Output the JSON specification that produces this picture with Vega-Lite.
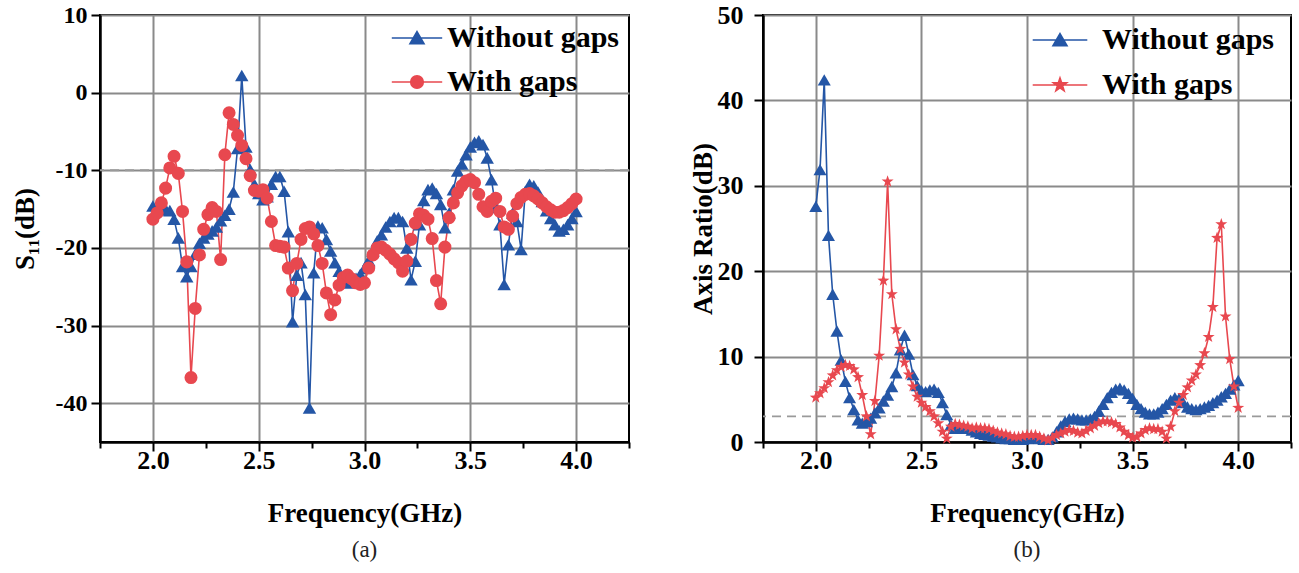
{
  "$schema": "https://vega.github.io/schema/vega-lite/v6.json",
  "padding": {"left": 10, "top": 1, "right": 5, "bottom": 5},
  "background": "white",
  "spacing": 57,
  "config": {
    "font": "Liberation Serif",
    "view": {"stroke": "black", "strokeWidth": 2},
    "axis": {
      "labelFont": "Liberation Serif", "labelFontWeight": "bold", "labelFontSize": 26, "labelColor": "black", "labelOverlap": false,
      "titleFont": "Liberation Serif", "titleFontWeight": "bold", "titleFontSize": 27, "titleColor": "black",
      "domainColor": "black", "domainWidth": 2.5, "tickColor": "black", "tickWidth": 2, "tickSize": 8,
      "grid": true, "gridColor": "#8a8a8a", "gridWidth": 2, "gridOpacity": 1
    }
  },
  "datasets": {
    "s11": [
      {"f":2.00,"v":-14.6,"s":"Without gaps"},{"f":2.02,"v":-14.9,"s":"Without gaps"},{"f":2.04,"v":-15.1,"s":"Without gaps"},{"f":2.06,"v":-15.0,"s":"Without gaps"},{"f":2.08,"v":-15.2,"s":"Without gaps"},
      {"f":2.10,"v":-16.3,"s":"Without gaps"},{"f":2.12,"v":-18.7,"s":"Without gaps"},{"f":2.14,"v":-22.4,"s":"Without gaps"},{"f":2.16,"v":-23.7,"s":"Without gaps"},{"f":2.18,"v":-22.4,"s":"Without gaps"},
      {"f":2.20,"v":-20.8,"s":"Without gaps"},{"f":2.22,"v":-19.4,"s":"Without gaps"},{"f":2.24,"v":-18.7,"s":"Without gaps"},{"f":2.26,"v":-18.2,"s":"Without gaps"},{"f":2.28,"v":-17.8,"s":"Without gaps"},
      {"f":2.30,"v":-17.3,"s":"Without gaps"},{"f":2.32,"v":-16.5,"s":"Without gaps"},{"f":2.34,"v":-15.8,"s":"Without gaps"},{"f":2.36,"v":-15.0,"s":"Without gaps"},{"f":2.38,"v":-12.8,"s":"Without gaps"},
      {"f":2.40,"v":-7.2,"s":"Without gaps"},{"f":2.42,"v":2.2,"s":"Without gaps"},{"f":2.44,"v":-7.0,"s":"Without gaps"},{"f":2.46,"v":-9.9,"s":"Without gaps"},{"f":2.48,"v":-11.8,"s":"Without gaps"},
      {"f":2.50,"v":-13.0,"s":"Without gaps"},{"f":2.52,"v":-13.8,"s":"Without gaps"},{"f":2.54,"v":-13.4,"s":"Without gaps"},{"f":2.56,"v":-11.8,"s":"Without gaps"},{"f":2.58,"v":-10.8,"s":"Without gaps"},
      {"f":2.60,"v":-10.8,"s":"Without gaps"},{"f":2.62,"v":-12.7,"s":"Without gaps"},{"f":2.64,"v":-17.9,"s":"Without gaps"},{"f":2.66,"v":-29.5,"s":"Without gaps"},{"f":2.68,"v":-23.5,"s":"Without gaps"},
      {"f":2.70,"v":-21.9,"s":"Without gaps"},{"f":2.72,"v":-26.0,"s":"Without gaps"},{"f":2.74,"v":-40.6,"s":"Without gaps"},{"f":2.76,"v":-23.2,"s":"Without gaps"},{"f":2.78,"v":-17.2,"s":"Without gaps"},
      {"f":2.80,"v":-17.4,"s":"Without gaps"},{"f":2.82,"v":-18.9,"s":"Without gaps"},{"f":2.84,"v":-20.4,"s":"Without gaps"},{"f":2.86,"v":-21.9,"s":"Without gaps"},{"f":2.88,"v":-23.0,"s":"Without gaps"},
      {"f":2.90,"v":-24.0,"s":"Without gaps"},{"f":2.92,"v":-24.5,"s":"Without gaps"},{"f":2.94,"v":-24.3,"s":"Without gaps"},{"f":2.96,"v":-23.9,"s":"Without gaps"},{"f":2.98,"v":-23.4,"s":"Without gaps"},
      {"f":3.00,"v":-22.6,"s":"Without gaps"},{"f":3.02,"v":-21.6,"s":"Without gaps"},{"f":3.04,"v":-20.4,"s":"Without gaps"},{"f":3.06,"v":-19.1,"s":"Without gaps"},{"f":3.08,"v":-18.3,"s":"Without gaps"},
      {"f":3.10,"v":-17.3,"s":"Without gaps"},{"f":3.12,"v":-16.6,"s":"Without gaps"},{"f":3.14,"v":-16.1,"s":"Without gaps"},{"f":3.16,"v":-16.1,"s":"Without gaps"},{"f":3.18,"v":-16.6,"s":"Without gaps"},
      {"f":3.20,"v":-20.0,"s":"Without gaps"},{"f":3.22,"v":-24.1,"s":"Without gaps"},{"f":3.24,"v":-21.7,"s":"Without gaps"},{"f":3.26,"v":-17.0,"s":"Without gaps"},{"f":3.28,"v":-13.9,"s":"Without gaps"},
      {"f":3.30,"v":-12.5,"s":"Without gaps"},{"f":3.32,"v":-12.3,"s":"Without gaps"},{"f":3.34,"v":-13.0,"s":"Without gaps"},{"f":3.36,"v":-14.4,"s":"Without gaps"},{"f":3.38,"v":-17.4,"s":"Without gaps"},
      {"f":3.40,"v":-15.5,"s":"Without gaps"},{"f":3.42,"v":-12.5,"s":"Without gaps"},{"f":3.44,"v":-10.1,"s":"Without gaps"},{"f":3.46,"v":-9.2,"s":"Without gaps"},{"f":3.48,"v":-8.0,"s":"Without gaps"},
      {"f":3.50,"v":-7.0,"s":"Without gaps"},{"f":3.52,"v":-6.4,"s":"Without gaps"},{"f":3.54,"v":-6.2,"s":"Without gaps"},{"f":3.56,"v":-6.7,"s":"Without gaps"},{"f":3.58,"v":-8.4,"s":"Without gaps"},
      {"f":3.60,"v":-11.2,"s":"Without gaps"},{"f":3.62,"v":-14.8,"s":"Without gaps"},{"f":3.64,"v":-17.0,"s":"Without gaps"},{"f":3.66,"v":-24.7,"s":"Without gaps"},{"f":3.68,"v":-19.6,"s":"Without gaps"},
      {"f":3.70,"v":-15.5,"s":"Without gaps"},{"f":3.72,"v":-16.6,"s":"Without gaps"},{"f":3.74,"v":-20.2,"s":"Without gaps"},{"f":3.76,"v":-12.7,"s":"Without gaps"},{"f":3.78,"v":-11.8,"s":"Without gaps"},
      {"f":3.80,"v":-12.0,"s":"Without gaps"},{"f":3.82,"v":-12.8,"s":"Without gaps"},{"f":3.84,"v":-14.0,"s":"Without gaps"},{"f":3.86,"v":-15.2,"s":"Without gaps"},{"f":3.88,"v":-16.2,"s":"Without gaps"},
      {"f":3.90,"v":-17.0,"s":"Without gaps"},{"f":3.92,"v":-17.8,"s":"Without gaps"},{"f":3.94,"v":-17.6,"s":"Without gaps"},{"f":3.96,"v":-17.0,"s":"Without gaps"},{"f":3.98,"v":-16.2,"s":"Without gaps"},
      {"f":4.00,"v":-15.3,"s":"Without gaps"},
      {"f":2.00,"v":-16.3,"s":"With gaps"},{"f":2.02,"v":-15.5,"s":"With gaps"},{"f":2.04,"v":-14.2,"s":"With gaps"},{"f":2.06,"v":-12.3,"s":"With gaps"},{"f":2.08,"v":-9.7,"s":"With gaps"},
      {"f":2.10,"v":-8.2,"s":"With gaps"},{"f":2.12,"v":-10.4,"s":"With gaps"},{"f":2.14,"v":-15.3,"s":"With gaps"},{"f":2.16,"v":-21.8,"s":"With gaps"},{"f":2.18,"v":-36.7,"s":"With gaps"},
      {"f":2.20,"v":-27.8,"s":"With gaps"},{"f":2.22,"v":-20.9,"s":"With gaps"},{"f":2.24,"v":-17.6,"s":"With gaps"},{"f":2.26,"v":-15.7,"s":"With gaps"},{"f":2.28,"v":-14.8,"s":"With gaps"},
      {"f":2.30,"v":-15.3,"s":"With gaps"},{"f":2.32,"v":-21.5,"s":"With gaps"},{"f":2.34,"v":-8.0,"s":"With gaps"},{"f":2.36,"v":-2.6,"s":"With gaps"},{"f":2.38,"v":-4.1,"s":"With gaps"},
      {"f":2.40,"v":-5.5,"s":"With gaps"},{"f":2.42,"v":-6.8,"s":"With gaps"},{"f":2.44,"v":-8.5,"s":"With gaps"},{"f":2.46,"v":-10.7,"s":"With gaps"},{"f":2.48,"v":-12.6,"s":"With gaps"},
      {"f":2.50,"v":-12.7,"s":"With gaps"},{"f":2.52,"v":-12.5,"s":"With gaps"},{"f":2.54,"v":-13.6,"s":"With gaps"},{"f":2.56,"v":-16.6,"s":"With gaps"},{"f":2.58,"v":-19.7,"s":"With gaps"},
      {"f":2.60,"v":-19.8,"s":"With gaps"},{"f":2.62,"v":-19.9,"s":"With gaps"},{"f":2.64,"v":-22.6,"s":"With gaps"},{"f":2.66,"v":-25.5,"s":"With gaps"},{"f":2.68,"v":-22.0,"s":"With gaps"},
      {"f":2.70,"v":-18.9,"s":"With gaps"},{"f":2.72,"v":-17.5,"s":"With gaps"},{"f":2.74,"v":-17.3,"s":"With gaps"},{"f":2.76,"v":-18.2,"s":"With gaps"},{"f":2.78,"v":-19.7,"s":"With gaps"},
      {"f":2.80,"v":-22.0,"s":"With gaps"},{"f":2.82,"v":-25.8,"s":"With gaps"},{"f":2.84,"v":-28.6,"s":"With gaps"},{"f":2.86,"v":-26.7,"s":"With gaps"},{"f":2.88,"v":-24.8,"s":"With gaps"},
      {"f":2.90,"v":-23.8,"s":"With gaps"},{"f":2.92,"v":-23.5,"s":"With gaps"},{"f":2.94,"v":-24.0,"s":"With gaps"},{"f":2.96,"v":-24.5,"s":"With gaps"},{"f":2.98,"v":-24.7,"s":"With gaps"},
      {"f":3.00,"v":-24.5,"s":"With gaps"},{"f":3.02,"v":-22.6,"s":"With gaps"},{"f":3.04,"v":-20.9,"s":"With gaps"},{"f":3.06,"v":-20.0,"s":"With gaps"},{"f":3.08,"v":-19.9,"s":"With gaps"},
      {"f":3.10,"v":-20.3,"s":"With gaps"},{"f":3.12,"v":-20.8,"s":"With gaps"},{"f":3.14,"v":-21.4,"s":"With gaps"},{"f":3.16,"v":-21.9,"s":"With gaps"},{"f":3.18,"v":-23.0,"s":"With gaps"},
      {"f":3.20,"v":-21.7,"s":"With gaps"},{"f":3.22,"v":-18.9,"s":"With gaps"},{"f":3.24,"v":-16.8,"s":"With gaps"},{"f":3.26,"v":-15.6,"s":"With gaps"},{"f":3.28,"v":-15.8,"s":"With gaps"},
      {"f":3.30,"v":-16.3,"s":"With gaps"},{"f":3.32,"v":-18.8,"s":"With gaps"},{"f":3.34,"v":-24.2,"s":"With gaps"},{"f":3.36,"v":-27.2,"s":"With gaps"},{"f":3.38,"v":-19.9,"s":"With gaps"},
      {"f":3.40,"v":-16.1,"s":"With gaps"},{"f":3.42,"v":-14.2,"s":"With gaps"},{"f":3.44,"v":-12.9,"s":"With gaps"},{"f":3.46,"v":-12.0,"s":"With gaps"},{"f":3.48,"v":-11.4,"s":"With gaps"},
      {"f":3.50,"v":-11.2,"s":"With gaps"},{"f":3.52,"v":-11.6,"s":"With gaps"},{"f":3.54,"v":-13.1,"s":"With gaps"},{"f":3.56,"v":-14.7,"s":"With gaps"},{"f":3.58,"v":-15.3,"s":"With gaps"},
      {"f":3.60,"v":-14.0,"s":"With gaps"},{"f":3.62,"v":-13.6,"s":"With gaps"},{"f":3.64,"v":-15.3,"s":"With gaps"},{"f":3.66,"v":-17.3,"s":"With gaps"},{"f":3.68,"v":-17.6,"s":"With gaps"},
      {"f":3.70,"v":-15.9,"s":"With gaps"},{"f":3.72,"v":-14.3,"s":"With gaps"},{"f":3.74,"v":-13.5,"s":"With gaps"},{"f":3.76,"v":-13.1,"s":"With gaps"},{"f":3.78,"v":-13.0,"s":"With gaps"},
      {"f":3.80,"v":-13.3,"s":"With gaps"},{"f":3.82,"v":-13.7,"s":"With gaps"},{"f":3.84,"v":-14.2,"s":"With gaps"},{"f":3.86,"v":-14.7,"s":"With gaps"},{"f":3.88,"v":-15.1,"s":"With gaps"},
      {"f":3.90,"v":-15.4,"s":"With gaps"},{"f":3.92,"v":-15.4,"s":"With gaps"},{"f":3.94,"v":-15.2,"s":"With gaps"},{"f":3.96,"v":-14.8,"s":"With gaps"},{"f":3.98,"v":-14.3,"s":"With gaps"},
      {"f":4.00,"v":-13.7,"s":"With gaps"}
    ],
    "ar": [
      {"f":2.00,"v":27.6,"s":"Without gaps"},{"f":2.02,"v":31.9,"s":"Without gaps"},{"f":2.04,"v":42.4,"s":"Without gaps"},{"f":2.06,"v":24.2,"s":"Without gaps"},{"f":2.08,"v":17.3,"s":"Without gaps"},
      {"f":2.10,"v":13.0,"s":"Without gaps"},{"f":2.12,"v":9.6,"s":"Without gaps"},{"f":2.14,"v":7.1,"s":"Without gaps"},{"f":2.16,"v":5.2,"s":"Without gaps"},{"f":2.18,"v":3.8,"s":"Without gaps"},
      {"f":2.20,"v":2.6,"s":"Without gaps"},{"f":2.22,"v":2.2,"s":"Without gaps"},{"f":2.24,"v":2.4,"s":"Without gaps"},{"f":2.26,"v":2.8,"s":"Without gaps"},{"f":2.28,"v":3.4,"s":"Without gaps"},
      {"f":2.30,"v":4.0,"s":"Without gaps"},{"f":2.32,"v":4.8,"s":"Without gaps"},{"f":2.34,"v":5.5,"s":"Without gaps"},{"f":2.36,"v":6.5,"s":"Without gaps"},{"f":2.38,"v":8.1,"s":"Without gaps"},
      {"f":2.40,"v":10.8,"s":"Without gaps"},{"f":2.42,"v":12.5,"s":"Without gaps"},{"f":2.44,"v":10.3,"s":"Without gaps"},{"f":2.46,"v":7.9,"s":"Without gaps"},{"f":2.48,"v":6.6,"s":"Without gaps"},
      {"f":2.50,"v":6.0,"s":"Without gaps"},{"f":2.52,"v":5.9,"s":"Without gaps"},{"f":2.54,"v":6.1,"s":"Without gaps"},{"f":2.56,"v":6.2,"s":"Without gaps"},{"f":2.58,"v":5.8,"s":"Without gaps"},
      {"f":2.60,"v":4.6,"s":"Without gaps"},{"f":2.62,"v":3.2,"s":"Without gaps"},{"f":2.64,"v":2.0,"s":"Without gaps"},{"f":2.66,"v":1.6,"s":"Without gaps"},{"f":2.68,"v":1.6,"s":"Without gaps"},
      {"f":2.70,"v":1.7,"s":"Without gaps"},{"f":2.72,"v":1.6,"s":"Without gaps"},{"f":2.74,"v":1.4,"s":"Without gaps"},{"f":2.76,"v":1.2,"s":"Without gaps"},{"f":2.78,"v":1.0,"s":"Without gaps"},
      {"f":2.80,"v":0.9,"s":"Without gaps"},{"f":2.82,"v":0.8,"s":"Without gaps"},{"f":2.84,"v":0.7,"s":"Without gaps"},{"f":2.86,"v":0.6,"s":"Without gaps"},{"f":2.88,"v":0.5,"s":"Without gaps"},
      {"f":2.90,"v":0.4,"s":"Without gaps"},{"f":2.92,"v":0.4,"s":"Without gaps"},{"f":2.94,"v":0.3,"s":"Without gaps"},{"f":2.96,"v":0.3,"s":"Without gaps"},{"f":2.98,"v":0.3,"s":"Without gaps"},
      {"f":3.00,"v":0.4,"s":"Without gaps"},{"f":3.02,"v":0.5,"s":"Without gaps"},{"f":3.04,"v":0.5,"s":"Without gaps"},{"f":3.06,"v":0.4,"s":"Without gaps"},{"f":3.08,"v":0.3,"s":"Without gaps"},
      {"f":3.10,"v":0.3,"s":"Without gaps"},{"f":3.12,"v":0.6,"s":"Without gaps"},{"f":3.14,"v":1.2,"s":"Without gaps"},{"f":3.16,"v":1.9,"s":"Without gaps"},{"f":3.18,"v":2.4,"s":"Without gaps"},
      {"f":3.20,"v":2.7,"s":"Without gaps"},{"f":3.22,"v":2.8,"s":"Without gaps"},{"f":3.24,"v":2.7,"s":"Without gaps"},{"f":3.26,"v":2.6,"s":"Without gaps"},{"f":3.28,"v":2.6,"s":"Without gaps"},
      {"f":3.30,"v":2.7,"s":"Without gaps"},{"f":3.32,"v":3.0,"s":"Without gaps"},{"f":3.34,"v":3.6,"s":"Without gaps"},{"f":3.36,"v":4.4,"s":"Without gaps"},{"f":3.38,"v":5.2,"s":"Without gaps"},
      {"f":3.40,"v":5.8,"s":"Without gaps"},{"f":3.42,"v":6.2,"s":"Without gaps"},{"f":3.44,"v":6.3,"s":"Without gaps"},{"f":3.46,"v":6.1,"s":"Without gaps"},{"f":3.48,"v":5.7,"s":"Without gaps"},
      {"f":3.50,"v":5.1,"s":"Without gaps"},{"f":3.52,"v":4.4,"s":"Without gaps"},{"f":3.54,"v":3.9,"s":"Without gaps"},{"f":3.56,"v":3.5,"s":"Without gaps"},{"f":3.58,"v":3.3,"s":"Without gaps"},
      {"f":3.60,"v":3.3,"s":"Without gaps"},{"f":3.62,"v":3.5,"s":"Without gaps"},{"f":3.64,"v":3.9,"s":"Without gaps"},{"f":3.66,"v":4.4,"s":"Without gaps"},{"f":3.68,"v":4.9,"s":"Without gaps"},
      {"f":3.70,"v":5.2,"s":"Without gaps"},{"f":3.72,"v":5.1,"s":"Without gaps"},{"f":3.74,"v":4.6,"s":"Without gaps"},{"f":3.76,"v":4.1,"s":"Without gaps"},{"f":3.78,"v":3.9,"s":"Without gaps"},
      {"f":3.80,"v":3.8,"s":"Without gaps"},{"f":3.82,"v":3.9,"s":"Without gaps"},{"f":3.84,"v":4.1,"s":"Without gaps"},{"f":3.86,"v":4.3,"s":"Without gaps"},{"f":3.88,"v":4.6,"s":"Without gaps"},
      {"f":3.90,"v":4.9,"s":"Without gaps"},{"f":3.92,"v":5.3,"s":"Without gaps"},{"f":3.94,"v":5.7,"s":"Without gaps"},{"f":3.96,"v":6.2,"s":"Without gaps"},{"f":3.98,"v":6.7,"s":"Without gaps"},
      {"f":4.00,"v":7.2,"s":"Without gaps"},
      {"f":2.00,"v":5.2,"s":"With gaps"},{"f":2.02,"v":5.7,"s":"With gaps"},{"f":2.04,"v":6.3,"s":"With gaps"},{"f":2.06,"v":7.0,"s":"With gaps"},{"f":2.08,"v":7.8,"s":"With gaps"},
      {"f":2.10,"v":8.4,"s":"With gaps"},{"f":2.12,"v":8.8,"s":"With gaps"},{"f":2.14,"v":9.0,"s":"With gaps"},{"f":2.16,"v":8.9,"s":"With gaps"},{"f":2.18,"v":8.5,"s":"With gaps"},
      {"f":2.20,"v":7.6,"s":"With gaps"},{"f":2.22,"v":5.5,"s":"With gaps"},{"f":2.24,"v":3.0,"s":"With gaps"},{"f":2.26,"v":0.9,"s":"With gaps"},{"f":2.28,"v":4.8,"s":"With gaps"},
      {"f":2.30,"v":10.1,"s":"With gaps"},{"f":2.32,"v":18.9,"s":"With gaps"},{"f":2.34,"v":30.5,"s":"With gaps"},{"f":2.36,"v":17.3,"s":"With gaps"},{"f":2.38,"v":13.2,"s":"With gaps"},
      {"f":2.40,"v":10.9,"s":"With gaps"},{"f":2.42,"v":9.3,"s":"With gaps"},{"f":2.44,"v":7.9,"s":"With gaps"},{"f":2.46,"v":6.5,"s":"With gaps"},{"f":2.48,"v":5.3,"s":"With gaps"},
      {"f":2.50,"v":4.6,"s":"With gaps"},{"f":2.52,"v":4.1,"s":"With gaps"},{"f":2.54,"v":3.6,"s":"With gaps"},{"f":2.56,"v":3.0,"s":"With gaps"},{"f":2.58,"v":2.2,"s":"With gaps"},
      {"f":2.60,"v":1.2,"s":"With gaps"},{"f":2.62,"v":0.4,"s":"With gaps"},{"f":2.64,"v":1.8,"s":"With gaps"},{"f":2.66,"v":2.1,"s":"With gaps"},{"f":2.68,"v":2.0,"s":"With gaps"},
      {"f":2.70,"v":1.9,"s":"With gaps"},{"f":2.72,"v":1.8,"s":"With gaps"},{"f":2.74,"v":1.6,"s":"With gaps"},{"f":2.76,"v":1.7,"s":"With gaps"},{"f":2.78,"v":1.6,"s":"With gaps"},
      {"f":2.80,"v":1.6,"s":"With gaps"},{"f":2.82,"v":1.5,"s":"With gaps"},{"f":2.84,"v":1.3,"s":"With gaps"},{"f":2.86,"v":1.1,"s":"With gaps"},{"f":2.88,"v":1.0,"s":"With gaps"},
      {"f":2.90,"v":0.9,"s":"With gaps"},{"f":2.92,"v":0.7,"s":"With gaps"},{"f":2.94,"v":0.6,"s":"With gaps"},{"f":2.96,"v":0.6,"s":"With gaps"},{"f":2.98,"v":0.7,"s":"With gaps"},
      {"f":3.00,"v":0.8,"s":"With gaps"},{"f":3.02,"v":0.8,"s":"With gaps"},{"f":3.04,"v":0.8,"s":"With gaps"},{"f":3.06,"v":0.6,"s":"With gaps"},{"f":3.08,"v":0.4,"s":"With gaps"},
      {"f":3.10,"v":0.2,"s":"With gaps"},{"f":3.12,"v":0.5,"s":"With gaps"},{"f":3.14,"v":0.8,"s":"With gaps"},{"f":3.16,"v":1.0,"s":"With gaps"},{"f":3.18,"v":1.2,"s":"With gaps"},
      {"f":3.20,"v":1.4,"s":"With gaps"},{"f":3.22,"v":1.3,"s":"With gaps"},{"f":3.24,"v":1.1,"s":"With gaps"},{"f":3.26,"v":1.0,"s":"With gaps"},{"f":3.28,"v":1.3,"s":"With gaps"},
      {"f":3.30,"v":1.6,"s":"With gaps"},{"f":3.32,"v":1.9,"s":"With gaps"},{"f":3.34,"v":2.2,"s":"With gaps"},{"f":3.36,"v":2.4,"s":"With gaps"},{"f":3.38,"v":2.4,"s":"With gaps"},
      {"f":3.40,"v":2.3,"s":"With gaps"},{"f":3.42,"v":2.1,"s":"With gaps"},{"f":3.44,"v":1.7,"s":"With gaps"},{"f":3.46,"v":1.2,"s":"With gaps"},{"f":3.48,"v":0.8,"s":"With gaps"},
      {"f":3.50,"v":0.5,"s":"With gaps"},{"f":3.52,"v":0.6,"s":"With gaps"},{"f":3.54,"v":1.0,"s":"With gaps"},{"f":3.56,"v":1.4,"s":"With gaps"},{"f":3.58,"v":1.6,"s":"With gaps"},
      {"f":3.60,"v":1.5,"s":"With gaps"},{"f":3.62,"v":1.5,"s":"With gaps"},{"f":3.64,"v":1.2,"s":"With gaps"},{"f":3.66,"v":0.4,"s":"With gaps"},{"f":3.68,"v":1.8,"s":"With gaps"},
      {"f":3.70,"v":3.6,"s":"With gaps"},{"f":3.72,"v":4.6,"s":"With gaps"},{"f":3.74,"v":5.5,"s":"With gaps"},{"f":3.76,"v":6.4,"s":"With gaps"},{"f":3.78,"v":7.2,"s":"With gaps"},
      {"f":3.80,"v":7.9,"s":"With gaps"},{"f":3.82,"v":9.0,"s":"With gaps"},{"f":3.84,"v":10.4,"s":"With gaps"},{"f":3.86,"v":12.3,"s":"With gaps"},{"f":3.88,"v":15.8,"s":"With gaps"},
      {"f":3.90,"v":23.9,"s":"With gaps"},{"f":3.92,"v":25.5,"s":"With gaps"},{"f":3.94,"v":14.7,"s":"With gaps"},{"f":3.96,"v":9.7,"s":"With gaps"},{"f":3.98,"v":6.5,"s":"With gaps"},
      {"f":4.00,"v":4.0,"s":"With gaps"}
    ],
    "one": [{}]
  },
  "resolve": {"scale": {"color": "independent"}, "legend": {"color": "independent"}},
  "hconcat": [
    {
      "width": 529, "height": 427,
      "title": {"text": "(a)", "orient": "bottom", "font": "Liberation Serif", "fontWeight": "normal", "fontSize": 23, "color": "#222", "offset": 13},
      "layer": [
        {
          "data": {"name": "one"},
          "mark": {"type": "rule", "color": "#9a9a9a", "strokeWidth": 1.8, "strokeDash": [9, 6]},
          "encoding": {
            "y": {"datum": -10, "type": "quantitative", "scale": {"domain": [-45, 10], "nice": false},
              "axis": {"title": "S₁₁(dB)", "values": [-40,-30,-20,-10,0,10],
                "labelExpr": "'' + datum.value", "labelFontSize": 24, "labelOverlap": false,
                "grid": true, "gridOpacity": 1,
                "tickSize": 9, "labelPadding": 4, "titlePadding": 16}}
          }
        },
        {
          "data": {"name": "s11"},
          "mark": {"type": "line", "strokeWidth": 1.6},
          "encoding": {
            "x": {"field": "f", "type": "quantitative", "scale": {"domain": [1.75, 4.25], "nice": false},
              "axis": {"title": "Frequency(GHz)", "values": [1.75,2.0,2.25,2.5,2.75,3.0,3.25,3.5,3.75,4.0,4.25],
                "labelExpr": "round(datum.value*4) % 2 === 0 ? format(datum.value, '.1f') : ''",
                "tickSize": {"condition": {"test": "round(datum.value*4) % 2 === 0", "value": 9}, "value": 6},
                "gridOpacity": {"condition": {"test": "round(datum.value*4) % 2 === 0", "value": 1}, "value": 0},
                "labelPadding": -4, "titlePadding": 27}},
            "y": {"field": "v", "type": "quantitative", "scale": {"domain": [-45, 10], "nice": false},
              "axis": {"title": "S₁₁(dB)", "values": [-40,-30,-20,-10,0,10],
                "labelExpr": "'' + datum.value", "labelFontSize": 24, "labelOverlap": false,
                "grid": true, "gridOpacity": 1,
                "tickSize": 9, "labelPadding": 4, "titlePadding": 16}},
            "color": {"field": "s", "type": "nominal",
              "scale": {"domain": ["Without gaps", "With gaps"], "range": ["#2456a6", "#e8484f"]},
              "legend": {"title": null, "orient": "none", "legendX": 302, "legendY": 8,
                "labelFont": "Liberation Serif", "labelFontWeight": "bold", "labelFontSize": 30, "labelColor": "black", "labelLimit": 0,
                "symbolSize": 196, "labelOffset": 15, "rowPadding": 14, "symbolStrokeWidth": 1.6, "symbolOpacity": 1,
                "encode": {"symbols": {"update": {
                  "shape": {"signal": "datum.value === 'Without gaps' ? 'M-3.6,0L3.6,0M0,-0.9L1,0.8L-1,0.8Z' : 'M-3.6,0L3.6,0M0.9,0A0.9,0.9,0,1,1,-0.9,0A0.9,0.9,0,1,1,0.9,0Z'"},
                  "fill": {"signal": "datum.value === 'Without gaps' ? '#2456a6' : '#e8484f'"},
                  "stroke": {"signal": "datum.value === 'Without gaps' ? '#2456a6' : '#e8484f'"},
                  "strokeWidth": {"value": 1.6}, "strokeOpacity": {"value": 1}, "opacity": {"value": 1}, "fillOpacity": {"value": 1}
                }}}}}
          }
        },
        {
          "data": {"name": "s11"},
          "transform": [{"filter": "datum.s === 'Without gaps'"}],
          "mark": {"type": "point", "filled": true, "opacity": 1, "size": 180, "shape": "triangle-up"},
          "encoding": {
            "x": {"field": "f", "type": "quantitative"},
            "y": {"field": "v", "type": "quantitative"},
            "color": {"field": "s", "type": "nominal"}
          }
        },
        {
          "data": {"name": "s11"},
          "transform": [{"filter": "datum.s === 'With gaps'"}],
          "mark": {"type": "point", "filled": true, "opacity": 1, "size": 170, "shape": "circle"},
          "encoding": {
            "x": {"field": "f", "type": "quantitative"},
            "y": {"field": "v", "type": "quantitative"},
            "color": {"field": "s", "type": "nominal"}
          }
        }
      ]
    },
    {
      "width": 528, "height": 427,
      "title": {"text": "(b)", "orient": "bottom", "font": "Liberation Serif", "fontWeight": "normal", "fontSize": 23, "color": "#222", "offset": 13},
      "layer": [
        {
          "data": {"name": "one"},
          "mark": {"type": "rule", "color": "#9a9a9a", "strokeWidth": 1.8, "strokeDash": [9, 6]},
          "encoding": {
            "y": {"datum": 3, "type": "quantitative", "scale": {"domain": [0, 50], "nice": false},
              "axis": {"title": "Axis Ratio(dB)", "values": [0,10,20,30,40,50],
                "labelExpr": "'' + datum.value", "labelOverlap": false,
                "grid": true, "gridOpacity": 1,
                "tickSize": 9, "labelPadding": 11, "titlePadding": 0}}
          }
        },
        {
          "data": {"name": "ar"},
          "mark": {"type": "line", "strokeWidth": 1.6},
          "encoding": {
            "x": {"field": "f", "type": "quantitative", "scale": {"domain": [1.75, 4.25], "nice": false},
              "axis": {"title": "Frequency(GHz)", "values": [1.75,2.0,2.25,2.5,2.75,3.0,3.25,3.5,3.75,4.0,4.25],
                "labelExpr": "round(datum.value*4) % 2 === 0 ? format(datum.value, '.1f') : ''",
                "tickSize": {"condition": {"test": "round(datum.value*4) % 2 === 0", "value": 9}, "value": 6},
                "gridOpacity": {"condition": {"test": "round(datum.value*4) % 2 === 0", "value": 1}, "value": 0},
                "labelPadding": -4, "titlePadding": 27}},
            "y": {"field": "v", "type": "quantitative", "scale": {"domain": [0, 50], "nice": false},
              "axis": {"title": "Axis Ratio(dB)", "values": [0,10,20,30,40,50],
                "labelExpr": "'' + datum.value", "labelOverlap": false,
                "grid": true, "gridOpacity": 1,
                "tickSize": 9, "labelPadding": 11, "titlePadding": 0}},
            "color": {"field": "s", "type": "nominal",
              "scale": {"domain": ["Without gaps", "With gaps"], "range": ["#2456a6", "#e8484f"]},
              "legend": {"title": null, "orient": "none", "legendX": 282, "legendY": 10,
                "labelFont": "Liberation Serif", "labelFontWeight": "bold", "labelFontSize": 30, "labelColor": "black", "labelLimit": 0,
                "symbolSize": 196, "labelOffset": 27, "rowPadding": 15, "symbolStrokeWidth": 1.6, "symbolOpacity": 1,
                "encode": {"symbols": {"update": {
                  "shape": {"signal": "datum.value === 'Without gaps' ? 'M-3.9,0L3.9,0M0,-0.9L1,0.8L-1,0.8Z' : 'M-3.9,0L3.9,0M0,-1L0.235,-0.324L0.951,-0.309L0.38,0.124L0.588,0.809L0,0.4L-0.588,0.809L-0.38,0.124L-0.951,-0.309L-0.235,-0.324Z'"},
                  "fill": {"signal": "datum.value === 'Without gaps' ? '#2456a6' : '#e8484f'"},
                  "stroke": {"signal": "datum.value === 'Without gaps' ? '#2456a6' : '#e8484f'"},
                  "strokeWidth": {"value": 1.6}, "strokeOpacity": {"value": 1}, "opacity": {"value": 1}, "fillOpacity": {"value": 1}
                }}}}}
          }
        },
        {
          "data": {"name": "ar"},
          "transform": [{"filter": "datum.s === 'Without gaps'"}],
          "mark": {"type": "point", "filled": true, "opacity": 1, "size": 170, "shape": "triangle-up"},
          "encoding": {
            "x": {"field": "f", "type": "quantitative"},
            "y": {"field": "v", "type": "quantitative"},
            "color": {"field": "s", "type": "nominal"}
          }
        },
        {
          "data": {"name": "ar"},
          "transform": [{"filter": "datum.s === 'With gaps'"}],
          "mark": {"type": "point", "filled": true, "opacity": 1, "size": 160, "shape": "M0,-1L0.235,-0.324L0.951,-0.309L0.38,0.124L0.588,0.809L0,0.4L-0.588,0.809L-0.38,0.124L-0.951,-0.309L-0.235,-0.324Z"},
          "encoding": {
            "x": {"field": "f", "type": "quantitative"},
            "y": {"field": "v", "type": "quantitative"},
            "color": {"field": "s", "type": "nominal"}
          }
        }
      ]
    }
  ]
}
